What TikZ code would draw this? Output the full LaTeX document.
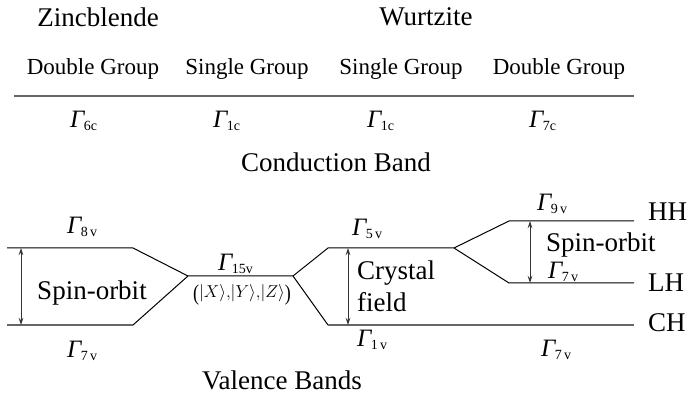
\documentclass[tikz,border=0pt]{standalone}
\usepackage{fontspec}
\usepackage{graphicx}
\setmainfont{Liberation Serif}
\usetikzlibrary{arrows.meta}
\newcommand\Gm[1]{{\fontsize{25}{25}\selectfont\itshape Γ}\kern-0.5pt\raisebox{-3pt}{\fontsize{14}{14}\selectfont #1}}
\newcommand\tallparen[1]{\raisebox{-3pt}{\scalebox{1}[1.25]{#1}}}
\tikzset{
  big/.style={inner sep=0pt,font=\fontsize{27}{30}\selectfont},
  grp/.style={inner sep=0pt,font=\fontsize{23}{26}\selectfont,anchor=base},
  gam/.style={inner sep=0pt,anchor=base west},
  level/.style={line width=1pt,black},
  levelg/.style={line width=1.6pt,black!60},
  split/.style={line width=0.9pt,black!80,{Stealth[length=7pt,width=4.5pt]}-{Stealth[length=7pt,width=4.5pt]}},
}
\begin{document}
\begin{tikzpicture}[x=1pt,y=-1pt]
\useasboundingbox (0,0) rectangle (689,398);
% headings
\node[big,anchor=base] (zb) at (98,27) {Zincblende};
\node[big,anchor=base] (wz) at (426,26) {Wurtzite};
\node[grp] (dg1) at (93,75) {Double Group};
\node[grp] (sg1) at (247,75) {Single Group};
\node[grp] (sg2) at (401,75) {Single Group};
\node[grp] (dg2) at (559,75) {Double Group};
\coordinate (t1) at (14,96);
\coordinate (t2) at (634,96);
\draw[line width=1.2pt,black!60] (t1) -- (t2);
% conduction band
\node[gam] (g6c) at (70,128) {\Gm{6c}};
\node[gam] (g1ca) at (213,128) {\Gm{1c}};
\node[gam] (g1cb) at (367,128) {\Gm{1c}};
\node[gam] (g7c) at (529,128) {\Gm{7c}};
\node[big,anchor=base] (cb) at (336,172) {Conduction Band};
% level coordinates
\coordinate (a1) at (7,248);
\coordinate (a2) at (133,248);
\coordinate (b1) at (7,325);
\coordinate (b2) at (133,325);
\coordinate (m1) at (188,276);
\coordinate (m2) at (293,276);
\coordinate (c1) at (328,248);
\coordinate (c2) at (454,248);
\coordinate (d1) at (328,325);
\coordinate (d2) at (634,325);
\coordinate (h1) at (509,221);
\coordinate (h2) at (634,221);
\coordinate (l1) at (509,283);
\coordinate (l2) at (634,283);
\draw[level] (a1) -- (a2) -- (m1) -- (m2) -- (c1) -- (c2) -- (h1) -- (h2);
\draw[level] (c2) -- (l1) -- (l2);
\draw[level] (m1) -- (b2);
\draw[level] (m2) -- (d1);
\draw[levelg] (b1) -- (b2);
\draw[levelg] (d1) -- (d2);
% arrows
\coordinate (s1t) at (21,248);
\coordinate (s1b) at (21,325);
\coordinate (cft) at (348,248);
\coordinate (cfb) at (348,325);
\coordinate (s2t) at (530,221);
\coordinate (s2b) at (530,283);
\draw[split] (s1t) -- (s1b);
\draw[split] (cft) -- (cfb);
\draw[split] (s2t) -- (s2b);
% valence labels
\node[gam] (g8v) at (67,234) {\Gm{8\,v}};
\node[gam] (g7va) at (67,358) {\Gm{7\,v}};
\node[gam] (g15v) at (218,271) {\Gm{15v}};
\node[gam] (g5v) at (352,236) {\Gm{5\,v}};
\node[gam] (g1v) at (357,347) {\Gm{1\,v}};
\node[gam] (g9v) at (537,211) {\Gm{9\,v}};
\node[gam] (g7vb) at (548,279) {\Gm{7\,v}};
\node[gam] (g7vc) at (541,357) {\Gm{7\,v}};
\node[big,anchor=base] (so1) at (92,300) {Spin-orbit};
\node[inner sep=0pt,anchor=base,font=\fontsize{18}{20}\selectfont] (xyz) at (242,298) {\tallparen{(}$|X\rangle{,}|Y\rangle{,}|Z\rangle$\tallparen{)}};
\node[big,anchor=base west] (cr) at (357,280) {Crystal};
\node[big,anchor=base west] (fd) at (357,312) {field};
\node[big,anchor=base west] (so2) at (546,252) {Spin-orbit};
\node[big,anchor=base west] (hh) at (648,221) {HH};
\node[big,anchor=base west] (lh) at (648,292) {LH};
\node[big,anchor=base west] (ch) at (648,332) {CH};
\node[big,anchor=base] (vb) at (282,390) {Valence Bands};
\end{tikzpicture}
\end{document}
